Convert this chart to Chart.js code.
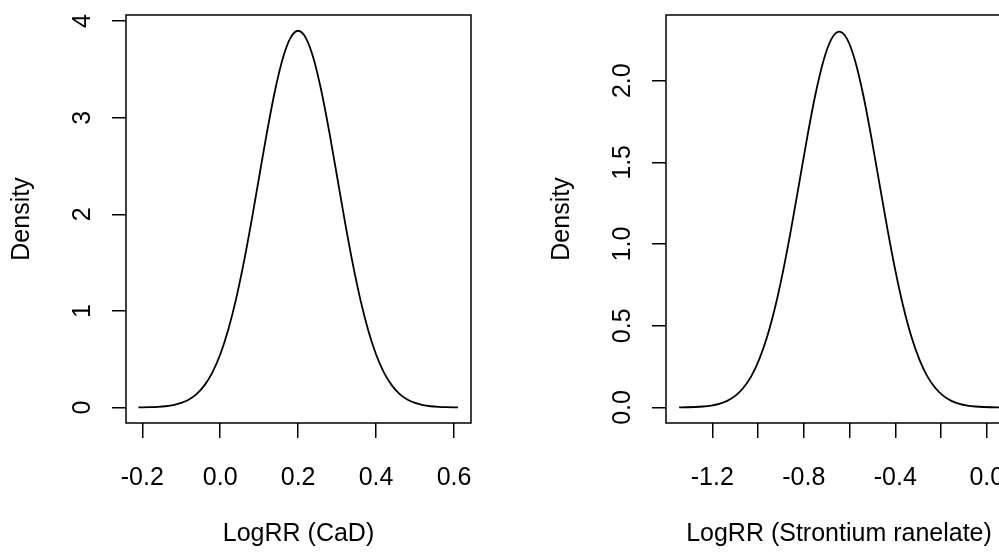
<!DOCTYPE html>
<html>
<head>
<meta charset="utf-8">
<script src="https://cdn.jsdelivr.net/npm/chart.js@4/dist/chart.umd.min.js"></script>
<style>
  html, body { margin: 0; padding: 0; background: #fff; overflow: hidden; }
  body { width: 999px; height: 552px; position: relative; }
  .panel { position: absolute; top: 0; height: 552px; }
  #left { left: 0; width: 500px; }
  #right { left: 500px; width: 540px; }
</style>
</head>
<body>
<div class="panel" id="left"><canvas id="cad-chart"></canvas></div>
<div class="panel" id="right"><canvas id="sr-chart"></canvas></div>
<script>
// density of LogRR (CaD)
const cadX = [-0.21, -0.20, -0.18, -0.16, -0.14, -0.12, -0.10, -0.08, -0.06, -0.04, -0.02,
              0.00, 0.02, 0.04, 0.06, 0.08, 0.10, 0.12, 0.14, 0.16, 0.18, 0.20,
              0.22, 0.24, 0.26, 0.28, 0.30, 0.32, 0.34, 0.36, 0.38, 0.40,
              0.42, 0.44, 0.46, 0.48, 0.50, 0.52, 0.54, 0.56, 0.58, 0.60, 0.61];
const cadDensity = [0.001, 0.0015, 0.0033, 0.0068, 0.0135, 0.0258, 0.0473, 0.0836, 0.142, 0.232, 0.364,
                    0.549, 0.797, 1.112, 1.492, 1.925, 2.389, 2.850, 3.269, 3.606, 3.824, 3.900,
                    3.824, 3.606, 3.269, 2.850, 2.389, 1.925, 1.492, 1.112, 0.797, 0.549,
                    0.364, 0.232, 0.142, 0.0836, 0.0473, 0.0258, 0.0135, 0.0068, 0.0033, 0.0015, 0.001];

// density of LogRR (Strontium ranelate)
const srX = [-1.345, -1.31, -1.275, -1.24, -1.205, -1.17, -1.135, -1.10, -1.065, -1.03,
             -0.995, -0.96, -0.925, -0.89, -0.855, -0.82, -0.785, -0.75, -0.715, -0.68,
             -0.645,
             -0.61, -0.575, -0.54, -0.505, -0.47, -0.435, -0.40, -0.365, -0.33, -0.295,
             -0.26, -0.225, -0.19, -0.155, -0.12, -0.085, -0.05, -0.015, 0.02, 0.055];
const srDensity = [0.0006, 0.0014, 0.0029, 0.0060, 0.0118, 0.0224, 0.0407, 0.0710, 0.119, 0.190,
                   0.294, 0.434, 0.616, 0.839, 1.096, 1.375, 1.655, 1.911, 2.118, 2.253,
                   2.300,
                   2.253, 2.118, 1.911, 1.655, 1.375, 1.096, 0.839, 0.616, 0.434, 0.294,
                   0.190, 0.119, 0.0710, 0.0407, 0.0224, 0.0118, 0.0060, 0.0029, 0.0014, 0.0006];

// tick positions and which ones get a label
const cadXTicks = [-0.2, 0.0, 0.2, 0.4, 0.6];
const cadYTicks = [0, 1, 2, 3, 4];
const srXTicks = [-1.2, -1.0, -0.8, -0.6, -0.4, -0.2, 0.0];
const srXLabelled = [-1.2, -0.8, -0.4, 0.0];
const srYTicks = [0.0, 0.5, 1.0, 1.5, 2.0];

const FONT = { family: "'Liberation Sans', Arial, sans-serif", size: 25 };

// R style box round the plot region
const boxPlugin = {
    id: 'box',
    afterDraw(chart) {
        const { ctx, chartArea } = chart;
        ctx.save();
        ctx.strokeStyle = '#000';
        ctx.lineWidth = 1.5;
        ctx.strokeRect(chartArea.left, chartArea.top, chartArea.right - chartArea.left, chartArea.bottom - chartArea.top);
        ctx.restore();
    }
};

function noPad(s) {
    s.paddingTop = 0; s.paddingBottom = 0; s.paddingLeft = 0; s.paddingRight = 0;
}

function makeChart(canvas, xs, ys, o) {
    return new Chart(canvas.getContext('2d'), {
        type: 'line',
        data: {
            datasets: [{
                data: xs.map((x, i) => ({ x: x, y: ys[i] })),
                borderColor: '#000',
                borderWidth: 1.8,
                pointRadius: 0,
                cubicInterpolationMode: 'monotone',
                fill: false
            }]
        },
        options: {
            responsive: false,
            animation: false,
            events: [],
            layout: { padding: { left: 0, top: 15, right: o.padRight, bottom: 0 } },
            plugins: { legend: { display: false }, tooltip: { enabled: false } },
            scales: {
                x: {
                    type: 'linear',
                    min: o.xMin, max: o.xMax,
                    afterFit: s => { s.height = 129; noPad(s); },
                    afterBuildTicks: s => { s.ticks = o.xTicks.map(v => ({ value: v })); },
                    border: { display: false },
                    grid: { drawOnChartArea: false, drawTicks: true, tickLength: 15, color: '#000', lineWidth: 1.5 },
                    ticks: {
                        autoSkip: false, maxRotation: 0, minRotation: 0, padding: 25,
                        color: '#000', font: FONT,
                        callback: v => o.xLabel(v)
                    },
                    title: { display: true, text: o.xTitle, color: '#000', font: FONT, padding: { top: 0, bottom: 2.5 } }
                },
                y: {
                    type: 'linear',
                    min: o.yMin, max: o.yMax,
                    afterFit: s => { s.width = o.yWidth; noPad(s); },
                    afterBuildTicks: s => { s.ticks = o.yTicks.map(v => ({ value: v })); },
                    border: { display: false },
                    grid: { drawOnChartArea: false, drawTicks: true, tickLength: 14, color: '#000', lineWidth: 1.5 },
                    ticks: {
                        autoSkip: false, minRotation: 90, maxRotation: 90, crossAlign: 'center',
                        padding: o.yPad, color: '#000', font: FONT,
                        callback: v => o.yLabel(v)
                    },
                    title: { display: true, text: 'Density', color: '#000', font: FONT, padding: { top: o.yTitlePad, bottom: 0 } }
                }
            }
        },
        plugins: [boxPlugin]
    });
}

const cadCanvas = document.querySelector('#cad-chart');
cadCanvas.width = 500; cadCanvas.height = 552;
makeChart(cadCanvas, cadX, cadDensity, {
    xMin: -0.2418, xMax: 0.6436, yMin: -0.160, yMax: 4.063,
    xTicks: cadXTicks, yTicks: cadYTicks,
    xLabel: v => v.toFixed(1), yLabel: v => String(v),
    xTitle: 'LogRR (CaD)',
    padRight: 29, yWidth: 126, yPad: 22, yTitlePad: 7.5
});

const srCanvas = document.querySelector('#sr-chart');
srCanvas.width = 540; srCanvas.height = 552;
makeChart(srCanvas, srX, srDensity, {
    xMin: -1.4024, xMax: 0.110, yMin: -0.095, yMax: 2.402,
    xTicks: srXTicks, yTicks: srYTicks,
    xLabel: v => srXLabelled.some(l => Math.abs(l - v) < 1e-9) ? v.toFixed(1) : '',
    yLabel: v => v.toFixed(1),
    xTitle: 'LogRR (Strontium ranelate)',
    padRight: 28, yWidth: 166, yPad: 11.5, yTitlePad: 47.5
});
</script>
</body>
</html>
